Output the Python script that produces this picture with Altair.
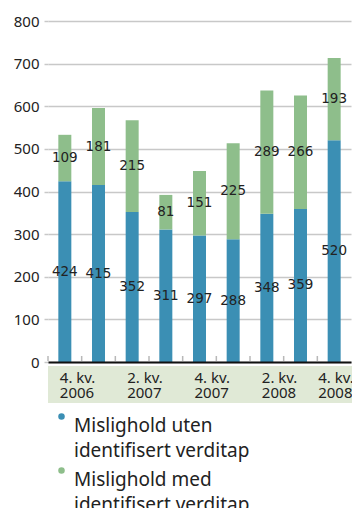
import altair as alt
import pandas as pd

# Quarterly defaulted loans, split by whether a value loss has been identified
quarters = ["4. kv.", "1. kv.", "2. kv.", "3. kv.", "4. kv.", "1. kv.", "2. kv.", "3. kv.", "4. kv."]
years = ["2006", "2007", "2007", "2007", "2007", "2008", "2008", "2008", "2008"]
uten_verditap = [424, 415, 352, 311, 297, 288, 348, 359, 520]
med_verditap = [109, 181, 215, 81, 151, 225, 289, 266, 193]
series_names = [
    "Mislighold uten\nidentifisert verditap",
    "Mislighold med\nidentifisert verditap",
]
series_colors = ["#3b8fb4", "#8ebe8b"]
y_ticks = [0, 100, 200, 300, 400, 500, 600, 700, 800]

periods = [f"{q}\n{y}" for q, y in zip(quarters, years)]
labelled_periods = periods[::2]

rows = []
for i, p in enumerate(periods):
    for k, vals in enumerate([uten_verditap, med_verditap]):
        rows.append({"period": p, "series": series_names[k], "idx": k, "value": vals[i]})
df = pd.DataFrame(rows)

W, H = 303, 341
TEXT = "#222222"
GRID = "#c8c8c8"
FONT = "Noto Sans"

x_scale = alt.Scale(paddingInner=0, paddingOuter=0)
y_scale = alt.Scale(domain=[0, 800], nice=False)

last_period = periods[-1].replace("\n", "\\n")
x_axis = alt.Axis(
    title=None, values=labelled_periods,
    labelExpr="split(datum.value, '\\n')",
    labelAngle=0, labelAlign="left", labelBaseline="top",
    labelOffset={"condition": {"test": f"datum.value === '{last_period}'", "value": -16},
                 "value": -5},
    labelPadding=8, labelLineHeight=15.5,
    labelFont=FONT, labelFontSize=15, labelColor=TEXT,
    labelOverlap=False, labelBound=False,
    ticks=False, domainColor="#111111", domainWidth=2, zindex=1,
)
y_axis = alt.Axis(
    title=None, values=y_ticks, grid=True, gridColor=GRID, gridWidth=1.5,
    domain=False, ticks=True, tickSize=4, tickColor=GRID, tickWidth=1.5,
    labelFont=FONT, labelFontSize=15, labelColor=TEXT, labelPadding=5,
)

stacked = (
    alt.Chart(df)
    .transform_stack(
        stack="value", groupby=["period"], as_=["v0", "v1"],
        sort=[alt.SortField("idx", order="ascending")],
    )
    .transform_calculate(mid="(datum.v0 + datum.v1) / 2")
)

# light band behind the category labels
label_band = (
    alt.Chart(alt.Data(values=[{"band": 1}]))
    .mark_rect(color="#e0e9d6")
    .encode(x=alt.value(0), x2=alt.value(W + 1), y=alt.value(H + 4), y2=alt.value(H + 41))
)

bars = stacked.mark_bar(size=13).encode(
    x=alt.X("period:N", sort=periods, scale=x_scale, axis=x_axis),
    y=alt.Y("v0:Q", scale=y_scale, axis=y_axis),
    y2="v1:Q",
    color=alt.Color(
        "series:N",
        scale=alt.Scale(domain=series_names, range=series_colors),
        legend=alt.Legend(
            orient="none", legendX=4, legendY=386, title=None, direction="vertical",
            padding=0, symbolType="circle", symbolSize=42, symbolStrokeWidth=0,
            labelExpr="split(datum.value, '\\n')", labelFont=FONT, labelFontSize=19,
            labelColor=TEXT, labelLimit=400, labelOffset=3,
            labelBaseline="top", rowPadding=0,
        ),
    ),
    order=alt.Order("idx:Q"),
)

values = stacked.mark_text(font="DejaVu Sans", fontSize=13.5, color=TEXT).encode(
    x=alt.X("period:N", sort=periods, scale=x_scale, axis=x_axis),
    y=alt.Y("mid:Q", scale=y_scale, axis=y_axis),
    text=alt.Text("value:Q"),
)

# short upward ticks on the baseline between the quarters
edge_ticks = (
    alt.Chart(pd.DataFrame({"period": periods}))
    .mark_rule(color="#b8b8b8", strokeWidth=1.5)
    .encode(
        x=alt.X("period:N", sort=periods, scale=x_scale, bandPosition=0, axis=x_axis),
        y=alt.value(H - 6), y2=alt.value(H - 1),
    )
)

chart = (
    alt.layer(label_band, bars, values, edge_ticks)
    .properties(
        width=W, height=H,
        padding={"left": 48, "top": 21, "right": 1, "bottom": 146},
        autosize=alt.AutoSizeParams(type="none"),
    )
    .configure(style={"guide-label": {"lineHeight": 25}})
    .configure_view(stroke=None)
)

chart.save("out.html", embed_options={"renderer": "svg", "actions": False})
